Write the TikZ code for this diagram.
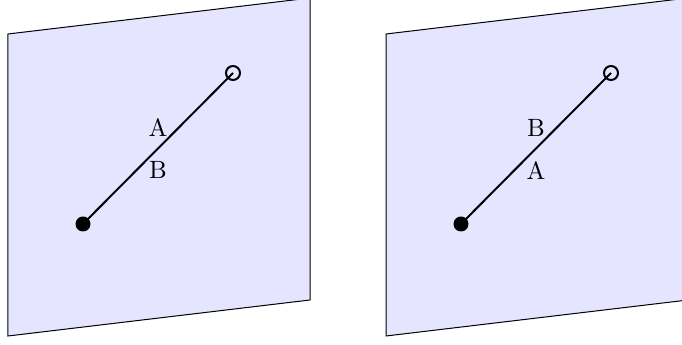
\documentclass[tikz,border=0pt]{standalone}
\begin{document}
\begin{tikzpicture}[x=0.4pt,y=-0.4pt,
  plane/.style={draw=black, fill=blue!10, line width=0.4pt},
  seg/.style={line width=0.8pt},
  dotfill/.style={circle, fill=black, inner sep=0pt, minimum size=6pt},
  ring/.style={circle, draw=black, line width=0.8pt, inner sep=0pt, minimum size=5.6pt}]
\useasboundingbox (0,0) rectangle (682,345);
% left plane
\draw[plane] (8,34) -- (310,-2) -- (310,300) -- (8,336) -- cycle;
\node[dotfill] (p1) at (83,224) {};
\node[ring] (q1) at (233,73) {};
\draw[seg] (p1.center) -- (q1.center)
  node[midway, above=1pt] (a1) {A}
  node[midway, below=1.5pt] (b1) {B};
% right plane
\draw[plane] (386,34) -- (688,-2) -- (688,300) -- (386,336) -- cycle;
\node[dotfill] (p2) at (461,224) {};
\node[ring] (q2) at (611,73) {};
\draw[seg] (p2.center) -- (q2.center)
  node[midway, above=1pt] (b2) {B}
  node[midway, below=1.5pt] (a2) {A};
\end{tikzpicture}
\end{document}
